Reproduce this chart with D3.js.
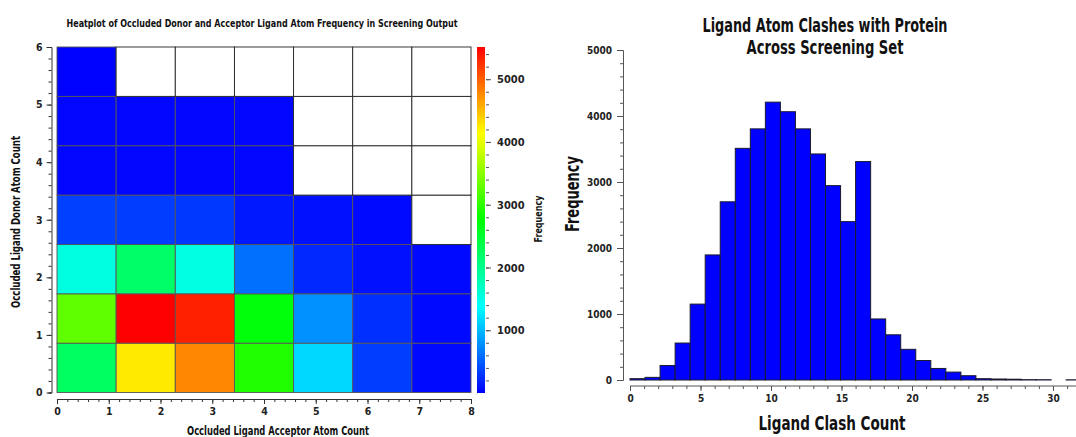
<!DOCTYPE html>
<html>
<head>
<meta charset="utf-8">
<script src="https://cdn.jsdelivr.net/npm/d3@7"></script>
<style>
  body { margin: 0; background: #fff; }
  text { font-family: "DejaVu Sans Condensed", "DejaVu Sans", sans-serif; font-stretch: condensed; }
</style>
</head>
<body>
<div id="chart"></div>
<script>
// heatmap: rows = donor count 0..6 (bottom to top), cols = acceptor count 0..6
const donorBins = [0, 1, 2, 3, 4, 5, 6];
const acceptorBins = [0, 1, 2, 3, 4, 5, 6];
const heatValues = [
  [2230, 4250, 4780, 2930, 1170, 330, 50],
  [3270, 5513, 5340, 2700, 780, 260, 50],
  [1545, 2200, 1530, 605, 215, 90, 50],
  [345, 330, 300, 130, 90, 50, null],
  [30, 30, 30, 30, null, null, null],
  [30, 30, 30, 30, null, null, null],
  [10, null, null, null, null, null, null]
];
const heatXTicks = [0, 1, 2, 3, 4, 5, 6, 7, 8];
const heatYTicks = [0, 1, 2, 3, 4, 5, 6];
const colorbarTicks = [1000, 2000, 3000, 4000, 5000];

// histogram of clash counts, 30 bins over 0..32
const histBinWidth = 32 / 30;
const histCounts = [20, 40, 220, 560, 1150, 1895, 2700, 3510, 3805, 4210, 4065, 3805, 3425, 2945, 2400,
  3310, 925, 685, 465, 295, 175, 120, 65, 20, 15, 12, 5, 4, 0, 3];
const histXTicks = [0, 5, 10, 15, 20, 25, 30];
const histYTicks = [0, 1000, 2000, 3000, 4000, 5000];

const W = 1076, H = 437;
const svg = d3.select("#chart").append("svg").attr("width", W).attr("height", H);

// squeeze a bold label to the narrow width the original font had
function label(x, y, txt, size, len, rot) {
  return svg.append("text")
    .attr("transform", `translate(${x},${y})` + (rot ? " rotate(-90)" : ""))
    .attr("text-anchor", "middle").attr("dominant-baseline", "central")
    .attr("font-size", size).attr("font-weight", "bold").attr("fill", "#111")
    .attr("textLength", len).attr("lengthAdjust", "spacingAndGlyphs")
    .text(txt);
}

// ---------- heatmap ----------
const hx = d3.scaleLinear().domain([0, 8]).range([57, 471]);
const hy = d3.scaleLinear().domain([0, 6]).range([392.5, 47]);
const vmax = 5513;
const color = d3.scaleLinear()
  .domain([0, vmax * 0.25, vmax * 0.5, vmax * 0.75, vmax])
  .range(["#0000ff", "#00ffff", "#00ff00", "#ffff00", "#ff0000"]);

const cw = 8 / acceptorBins.length, ch = 6 / donorBins.length;
const cells = [];
donorBins.forEach((d, r) => acceptorBins.forEach((a, c) => cells.push({ r, c, v: heatValues[r][c] })));

svg.append("g").selectAll("rect").data(cells).join("rect")
  .attr("x", d => hx(d.c * cw))
  .attr("y", d => hy((d.r + 1) * ch))
  .attr("width", d => hx((d.c + 1) * cw) - hx(d.c * cw))
  .attr("height", d => hy(d.r * ch) - hy((d.r + 1) * ch))
  .attr("fill", d => d.v == null ? "#fff" : color(d.v))
  .attr("stroke", d => d.v == null ? "#222" : "#555")
  .attr("stroke-width", 0.9);

function styleAxis(g, col) {
  g.selectAll("path, line").attr("stroke", col || "#333");
  g.selectAll("text").attr("fill", "#222").attr("font-weight", "bold");
}

const minorX = d3.range(0, 8.001, 0.2), minorY = d3.range(0, 6.001, 0.2);
svg.append("g").attr("transform", "translate(0,399)")
  .call(d3.axisBottom(hx).tickValues(minorX).tickSize(3).tickFormat("")).call(styleAxis);
svg.append("g").attr("transform", "translate(0,399)")
  .call(d3.axisBottom(hx).tickValues(heatXTicks).tickSize(5).tickPadding(4).tickFormat(d3.format("d")))
  .call(g => g.select(".domain").remove())
  .call(g => g.selectAll("text").attr("font-size", 10.5)).call(styleAxis);

svg.append("g").attr("transform", "translate(51.5,0)")
  .call(d3.axisLeft(hy).tickValues(minorY).tickSize(3).tickFormat("")).call(styleAxis);
svg.append("g").attr("transform", "translate(51.5,0)")
  .call(d3.axisLeft(hy).tickValues(heatYTicks).tickSize(5).tickPadding(4).tickFormat(d3.format("d")))
  .call(g => g.select(".domain").remove())
  .call(g => g.selectAll("text").attr("font-size", 10.5)).call(styleAxis);

// colorbar
const cb = d3.scaleLinear().domain([0, vmax]).range([393, 47]);
const grad = svg.append("defs").append("linearGradient").attr("id", "jet")
  .attr("x1", 0).attr("y1", 1).attr("x2", 0).attr("y2", 0);
color.domain().forEach((v, i) => grad.append("stop")
  .attr("offset", v / vmax).attr("stop-color", color.range()[i]));
svg.append("rect").attr("x", 477).attr("y", cb(vmax)).attr("width", 8)
  .attr("height", cb(0) - cb(vmax)).attr("fill", "url(#jet)");
svg.append("g").attr("transform", "translate(486,0)")
  .call(d3.axisRight(cb).tickValues(d3.range(200, vmax, 200)).tickSize(3).tickFormat(""))
  .call(g => g.select(".domain").remove()).call(styleAxis, "#555");
svg.append("g").attr("transform", "translate(486,0)")
  .call(d3.axisRight(cb).tickValues(colorbarTicks).tickSize(5).tickPadding(6).tickFormat(d3.format("d")))
  .call(g => g.select(".domain").remove())
  .call(g => g.selectAll("text").attr("font-size", 11)).call(styleAxis, "#555");
label(538, 219, "Frequency", 10.5, 47, true);

label(262, 23, "Heatplot of Occluded Donor and Acceptor Ligand Atom Frequency in Screening Output", 11, 391);
label(278, 431, "Occluded Ligand Acceptor Atom Count", 11.5, 182);
label(16, 222, "Occluded Ligand Donor Atom Count", 11.5, 172, true);

// ---------- histogram ----------
const x = d3.scaleLinear().domain([0, 30]).range([630, 1053]);
const y = d3.scaleLinear().domain([0, 5000]).range([380, 50]);

svg.append("g").selectAll("rect").data(histCounts.map((c, i) => ({ i, c })).filter(d => d.c > 0)).join("rect")
  .attr("x", d => x(d.i * histBinWidth))
  .attr("y", d => y(d.c))
  .attr("width", d => x((d.i + 1) * histBinWidth) - x(d.i * histBinWidth))
  .attr("height", d => y(0) - y(d.c))
  .attr("fill", "#0000ff").attr("stroke", "#1a1a2e").attr("stroke-width", 1);

svg.append("g").attr("transform", "translate(0,386)")
  .call(d3.axisBottom(x).tickValues(d3.range(0, 36, 1)).tickSize(3).tickFormat(""))
  .call(g => g.select(".domain").attr("d", `M${x(0)},0H${W}`)).call(styleAxis, "#555");
svg.append("g").attr("transform", "translate(0,386)")
  .call(d3.axisBottom(x).tickValues(histXTicks).tickSize(5).tickPadding(4).tickFormat(d3.format("d")))
  .call(g => g.select(".domain").remove())
  .call(g => g.selectAll("text").attr("font-size", 10)).call(styleAxis, "#555");

svg.append("g").attr("transform", "translate(623,0)")
  .call(d3.axisLeft(y).tickValues(d3.range(0, 5001, 200)).tickSize(3).tickFormat(""))
  .call(styleAxis, "#555");
svg.append("g").attr("transform", "translate(623,0)")
  .call(d3.axisLeft(y).tickValues(histYTicks).tickSize(6).tickPadding(5).tickFormat(d3.format("d")))
  .call(g => g.select(".domain").remove())
  .call(g => g.selectAll("text").attr("font-size", 10)).call(styleAxis, "#555");

label(825, 25, "Ligand Atom Clashes with Protein", 20, 245);
label(825, 47, "Across Screening Set", 20, 157);
label(832, 423, "Ligand Clash Count", 20, 147);
label(572, 194, "Frequency", 20, 76, true);
</script>
</body>
</html>
